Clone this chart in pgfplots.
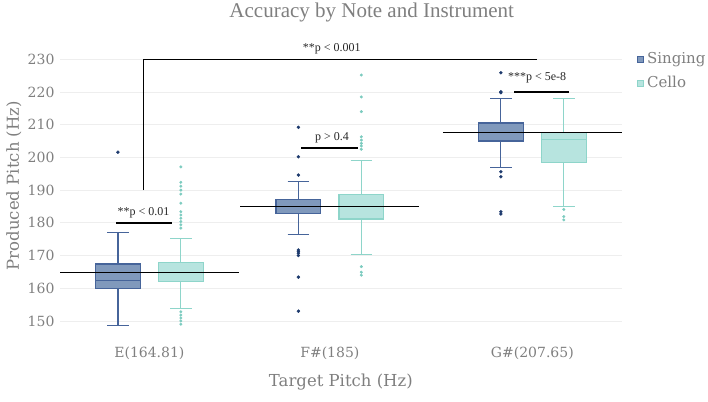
\documentclass[border=0pt]{standalone}
\usepackage{fontspec}
\setmainfont{DejaVu Serif}
\newfontfamily\timesf{Liberation Serif}
\usepackage{pgfplots}
\pgfplotsset{compat=1.18}
\usepgfplotslibrary{statistics}
\definecolor{singfill}{HTML}{8099BC}
\definecolor{singline}{HTML}{46649A}
\definecolor{singdot}{HTML}{1D3A6D}
\definecolor{celfill}{HTML}{B7E4DF}
\definecolor{celline}{HTML}{8ED5CA}
\definecolor{celdot}{HTML}{7CCBBF}
\definecolor{txtc}{HTML}{7F7F7F}
\definecolor{gridc}{HTML}{EEEEEE}
\begin{document}
\begin{tikzpicture}[x=1pt,y=1pt]
\path[use as bounding box] (0,0) rectangle (708,401);
\begin{axis}[at={(60pt,63.7pt)}, anchor=south west, scale only axis,
  width=561.7pt, height=287.8pt,
  boxplot/draw direction=y,
  xmin=154.81, xmax=217.65, ymin=145, ymax=233,
  xtick={164.81,185,207.65}, xticklabels={E(164.81),F\#(185),G\#(207.65)},
  ytick={150,160,...,230}, yticklabels={150,160,170,180,190,200,210,220,230},
  ymajorgrids, xmajorgrids=false, grid style={color=gridc, line width=0.8pt},
  axis line style={draw=none}, major tick length=0pt,
  tick label style={color=txtc, font=\fontsize{14}{16}\selectfont},
  yticklabel style={xshift=-2pt},
  xticklabel style={yshift=-6pt},
  /pgf/number format/assume math mode=true,
  clip=false,
  xlabel={Target Pitch (Hz)}, ylabel={Produced Pitch (Hz)},
  label style={color=txtc, font=\fontsize{16.5}{20}\selectfont},
  xlabel style={at={(axis description cs:0.5,-0.155)}, anchor=center},
  ylabel style={at={(axis description cs:-0.082,0.527)}, anchor=center},
  legend style={draw=none, fill=none, at={(axis description cs:1.027,0.99)}, anchor=north west,
    inner sep=0pt, font=\fontsize{15}{18}\selectfont, text=txtc,
    nodes={inner xsep=3pt, inner ysep=0pt, text height=11pt, text depth=3pt},
    row sep=10pt, cells={anchor=west}},
  legend image code/.code={\draw[#1, line width=1pt] (0.5pt,-3pt) rectangle (6.5pt,3pt);},
]
\addlegendimage{draw=singline, fill=singfill}
\addlegendentry{Singing}
\addlegendimage{draw=celline, fill=celfill}
\addlegendentry{Cello}

% Singing boxes
\addplot[forget plot, boxplot prepared={draw position=161.29, box extend=5, whisker extend=2.4,
  lower whisker=148.6, lower quartile=159.8, median=162.3, upper quartile=167.4, upper whisker=177.0},
  draw=singline, fill=singfill, line width=1.2pt] coordinates {};
\addplot[forget plot, boxplot prepared={draw position=181.48, box extend=5, whisker extend=2.4,
  lower whisker=176.5, lower quartile=182.8, median=185.0, upper quartile=187.2, upper whisker=192.6},
  draw=singline, fill=singfill, line width=1.2pt] coordinates {};
\addplot[forget plot, boxplot prepared={draw position=204.13, box extend=5, whisker extend=2.4,
  lower whisker=196.9, lower quartile=205.0, median=207.7, upper quartile=210.5, upper whisker=218.1},
  draw=singline, fill=singfill, line width=1.2pt] coordinates {};
% Cello boxes
\addplot[forget plot, boxplot prepared={draw position=168.33, box extend=5, whisker extend=2.4,
  lower whisker=153.7, lower quartile=162.1, median=164.8, upper quartile=167.9, upper whisker=175.3},
  draw=celline, fill=celfill, line width=1.2pt] coordinates {};
\addplot[forget plot, boxplot prepared={draw position=188.52, box extend=5, whisker extend=2.4,
  lower whisker=170.4, lower quartile=181.2, median=185.0, upper quartile=188.6, upper whisker=199.0},
  draw=celline, fill=celfill, line width=1.2pt] coordinates {};
\addplot[forget plot, boxplot prepared={draw position=211.17, box extend=5, whisker extend=2.4,
  lower whisker=184.9, lower quartile=198.5, median=205.5, upper quartile=207.6, upper whisker=217.9},
  draw=celline, fill=celfill, line width=1.2pt] coordinates {};

% target lines
\addplot[forget plot, black, line width=1.6pt] coordinates {(154.81,164.81) (174.81,164.81)};
\addplot[forget plot, black, line width=1.6pt] coordinates {(175.0,185) (195.0,185)};
\addplot[forget plot, black, line width=1.6pt] coordinates {(197.65,207.65) (217.65,207.65)};

% outliers
\addplot[forget plot, only marks, mark=*, mark size=1.5pt, color=singdot] coordinates {
 (161.29,201.6)
 (181.48,209.2) (181.48,200.2) (181.48,194.6) (181.48,171.7) (181.48,171.2) (181.48,170.7)
 (181.48,170.0) (181.48,163.4) (181.48,153.0)
 (204.13,225.9) (204.13,220.1) (204.13,219.8) (204.13,195.6) (204.13,194.1) (204.13,183.4) (204.13,182.7)
};
\addplot[forget plot, only marks, mark=*, mark size=1.3pt, color=celdot] coordinates {
 (168.33,197.1) (168.33,192.4) (168.33,191.2) (168.33,190.0) (168.33,188.8) (168.33,186.0)
 (168.33,183.4) (168.33,182.4) (168.33,181.4) (168.33,180.4) (168.33,179.4) (168.33,178.4)
 (168.33,152.8) (168.33,151.8) (168.33,150.9) (168.33,150.0) (168.33,149.0)
 (188.52,225.2) (188.52,218.5) (188.52,214.0) (188.52,206.3) (188.52,205.3) (188.52,204.3)
 (188.52,203.5) (188.52,202.5) (188.52,166.6) (188.52,164.9) (188.52,164.0)
 (211.17,184.1) (211.17,181.9) (211.17,180.9)
};

% significance brackets
\addplot[forget plot, black, line width=1.5pt] coordinates {(164.17,190) (164.17,230) (208.2,230)};
\addplot[forget plot, black, line width=2pt] coordinates {(161.1,180) (167.3,180)};
\addplot[forget plot, black, line width=2pt] coordinates {(181.8,203) (188.1,203)};
\addplot[forget plot, black, line width=2pt] coordinates {(205.6,220.1) (211.8,220.1)};

\node[font=\timesf\fontsize{12}{14}\selectfont, text=black!85] at (axis cs:185.2,233.2) {**p < 0.001};
\node[font=\timesf\fontsize{12}{14}\selectfont, text=black!85] at (axis cs:164.14,183.1) {**p < 0.01};
\node[font=\timesf\fontsize{12}{14}\selectfont, text=black!85] at (axis cs:185.25,206.0) {p > 0.4};
\node[font=\timesf\fontsize{12}{14}\selectfont, text=black!85] at (axis cs:208.18,224.2) {***p < 5e-8};

\node[font=\timesf\fontsize{21}{24}\selectfont, text=txtc] at (axis description cs:0.555,1.13) {Accuracy by Note and Instrument};
\end{axis}
\end{tikzpicture}
\end{document}
